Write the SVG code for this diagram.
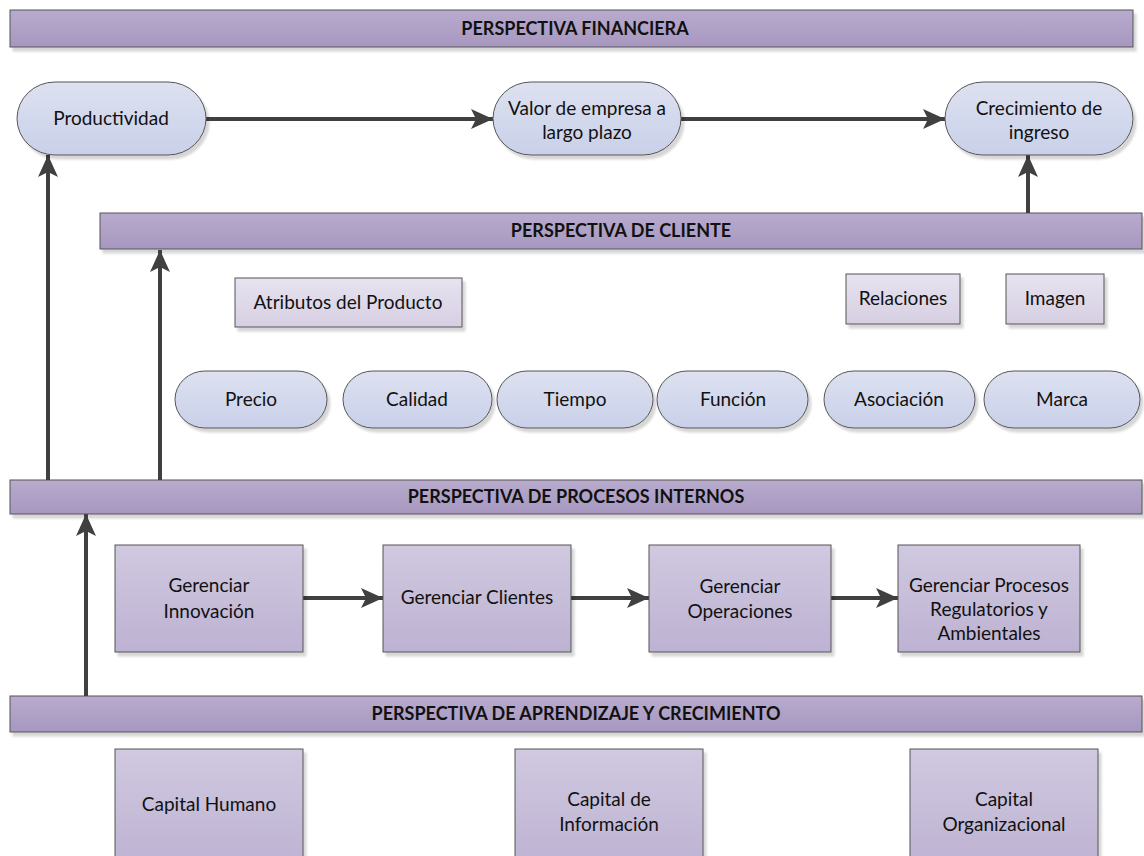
<svg xmlns="http://www.w3.org/2000/svg" width="1144" height="856" viewBox="0 0 1144 856">
  <defs>
    <linearGradient id="gBanner" x1="0" y1="0" x2="0" y2="1">
      <stop offset="0" stop-color="#b8abcd"/>
      <stop offset="1" stop-color="#a797c0"/>
    </linearGradient>
    <linearGradient id="gPill" x1="0" y1="0" x2="0" y2="1">
      <stop offset="0" stop-color="#dde1f1"/>
      <stop offset="1" stop-color="#c9d0e8"/>
    </linearGradient>
    <linearGradient id="gBox" x1="0" y1="0" x2="0" y2="1">
      <stop offset="0" stop-color="#d0c9e0"/>
      <stop offset="1" stop-color="#bdb2d2"/>
    </linearGradient>
    <linearGradient id="gLight" x1="0" y1="0" x2="0" y2="1">
      <stop offset="0" stop-color="#e7e3ef"/>
      <stop offset="1" stop-color="#d6cfe3"/>
    </linearGradient>
    <filter id="shadow" x="-5%" y="-5%" width="115%" height="130%">
      <feDropShadow dx="3" dy="4" stdDeviation="0.8" flood-color="#000" flood-opacity="0.16"/>
    </filter>
    <marker id="arrow" viewBox="0 0 22 20" refX="22" refY="10" markerWidth="22" markerHeight="20" markerUnits="userSpaceOnUse" orient="auto">
      <path d="M0,0 L22,10 L0,20 L5,10 Z" fill="#404040"/>
    </marker>
  </defs>
  <style>
    .banner { fill: url(#gBanner); stroke: #555; stroke-width: 1; filter: url(#shadow); }
    .pill { fill: url(#gPill); stroke: #555; stroke-width: 1; filter: url(#shadow); }
    .box { fill: url(#gBox); stroke: #555; stroke-width: 1; filter: url(#shadow); }
    .light { fill: url(#gLight); stroke: #555; stroke-width: 1; filter: url(#shadow); }
    .title { font-family: Lato, "Liberation Sans", sans-serif; font-weight: bold; font-size: 18px; fill: #111; text-anchor: middle; }
    .label { font-family: Lato, "Liberation Sans", sans-serif; font-size: 19px; fill: #111; text-anchor: middle; }
    .conn { fill: none; stroke: #404040; stroke-width: 4; marker-end: url(#arrow); }
  </style>

  <!-- perspective banners -->
  <g id="banner-financiera">
    <rect class="banner" x="10" y="10" width="1123" height="37"/>
    <text class="title" x="575" y="35">PERSPECTIVA FINANCIERA</text>
  </g>
  <g id="banner-cliente">
    <rect class="banner" x="100" y="213" width="1042" height="36"/>
    <text class="title" x="621" y="237">PERSPECTIVA DE CLIENTE</text>
  </g>
  <g id="banner-procesos">
    <rect class="banner" x="10" y="480" width="1132" height="34"/>
    <text class="title" x="576" y="503">PERSPECTIVA DE PROCESOS INTERNOS</text>
  </g>
  <g id="banner-aprendizaje">
    <rect class="banner" x="10" y="696" width="1132" height="36"/>
    <text class="title" x="576" y="720">PERSPECTIVA DE APRENDIZAJE Y CRECIMIENTO</text>
  </g>

  <!-- connectors -->
  <g id="connectors">
    <path class="conn" d="M206,119 H493"/>
    <path class="conn" d="M681,119 H945"/>
    <path class="conn" d="M1028,213 V155"/>
    <path class="conn" d="M48,480 V155"/>
    <path class="conn" d="M160,480 V250"/>
    <path class="conn" d="M86,696 V514"/>
    <path class="conn" d="M303,598 H383"/>
    <path class="conn" d="M571,598 H649"/>
    <path class="conn" d="M831,598 H898"/>
  </g>

  <!-- financial objectives -->
  <g id="productividad">
    <rect class="pill" x="17" y="82" width="189" height="73" rx="38" ry="36.5"/>
    <text class="label" x="111" y="125">Productividad</text>
  </g>
  <g id="valor-empresa">
    <rect class="pill" x="493" y="82" width="188" height="73" rx="38" ry="36.5"/>
    <text class="label" x="587" y="115">Valor de empresa a</text>
    <text class="label" x="587" y="139">largo plazo</text>
  </g>
  <g id="crecimiento-ingreso">
    <rect class="pill" x="945" y="82" width="188" height="73" rx="38" ry="36.5"/>
    <text class="label" x="1039" y="115">Crecimiento de</text>
    <text class="label" x="1039" y="139">ingreso</text>
  </g>

  <!-- customer value proposition -->
  <g id="atributos">
    <rect class="light" x="235" y="278" width="227" height="49"/>
    <text class="label" x="348" y="309">Atributos del Producto</text>
  </g>
  <g id="relaciones">
    <rect class="light" x="846" y="274" width="114" height="50"/>
    <text class="label" x="903" y="305">Relaciones</text>
  </g>
  <g id="imagen">
    <rect class="light" x="1006" y="274" width="98" height="50"/>
    <text class="label" x="1055" y="305">Imagen</text>
  </g>

  <g id="precio">
    <rect class="pill" x="175" y="371" width="152" height="57" rx="30" ry="28.5"/>
    <text class="label" x="251" y="406">Precio</text>
  </g>
  <g id="calidad">
    <rect class="pill" x="343" y="371" width="149" height="57" rx="30" ry="28.5"/>
    <text class="label" x="417" y="406">Calidad</text>
  </g>
  <g id="tiempo">
    <rect class="pill" x="497" y="371" width="156" height="57" rx="30" ry="28.5"/>
    <text class="label" x="575" y="406">Tiempo</text>
  </g>
  <g id="funcion">
    <rect class="pill" x="657" y="371" width="151" height="57" rx="30" ry="28.5"/>
    <text class="label" x="733" y="406">Función</text>
  </g>
  <g id="asociacion">
    <rect class="pill" x="824" y="371" width="151" height="57" rx="30" ry="28.5"/>
    <text class="label" x="899" y="406">Asociación</text>
  </g>
  <g id="marca">
    <rect class="pill" x="984" y="371" width="156" height="57" rx="30" ry="28.5"/>
    <text class="label" x="1062" y="406">Marca</text>
  </g>

  <!-- internal processes -->
  <g id="innovacion">
    <rect class="box" x="115" y="545" width="188" height="107"/>
    <text class="label" x="209" y="592">Gerenciar</text>
    <text class="label" x="209" y="618">Innovación</text>
  </g>
  <g id="clientes">
    <rect class="box" x="383" y="545" width="188" height="107"/>
    <text class="label" x="477" y="604">Gerenciar Clientes</text>
  </g>
  <g id="operaciones">
    <rect class="box" x="649" y="545" width="182" height="107"/>
    <text class="label" x="740" y="593">Gerenciar</text>
    <text class="label" x="740" y="618">Operaciones</text>
  </g>
  <g id="regulatorios">
    <rect class="box" x="898" y="545" width="182" height="107"/>
    <text class="label" x="989" y="592">Gerenciar Procesos</text>
    <text class="label" x="989" y="616">Regulatorios y</text>
    <text class="label" x="989" y="640">Ambientales</text>
  </g>

  <!-- learning and growth -->
  <g id="capital-humano">
    <rect class="box" x="115" y="749" width="188" height="120"/>
    <text class="label" x="209" y="811">Capital Humano</text>
  </g>
  <g id="capital-informacion">
    <rect class="box" x="515" y="749" width="188" height="120"/>
    <text class="label" x="609" y="806">Capital de</text>
    <text class="label" x="609" y="831">Información</text>
  </g>
  <g id="capital-organizacional">
    <rect class="box" x="910" y="749" width="188" height="120"/>
    <text class="label" x="1004" y="806">Capital</text>
    <text class="label" x="1004" y="831">Organizacional</text>
  </g>
</svg>
